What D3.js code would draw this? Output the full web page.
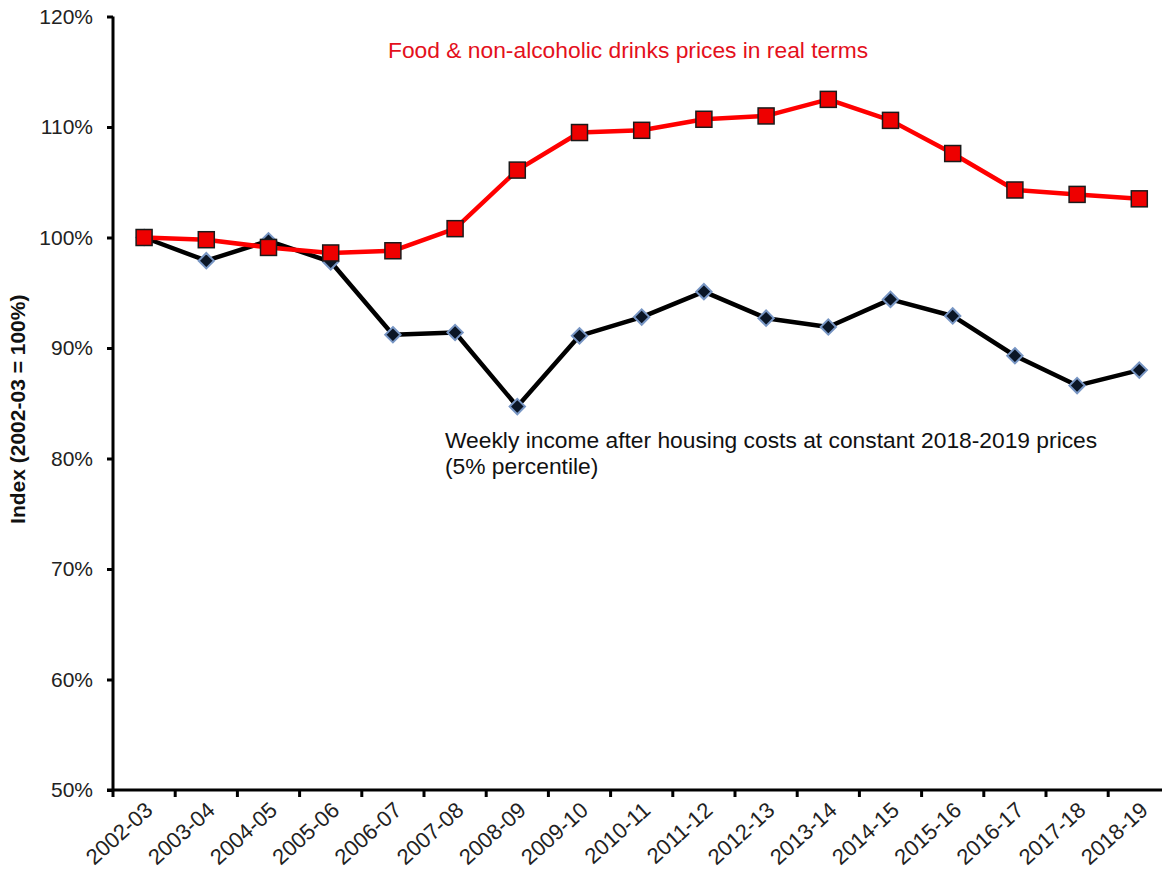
<!DOCTYPE html>
<html>
<head>
<meta charset="utf-8">
<script src="https://cdn.jsdelivr.net/npm/d3@7"></script>
<style>
  html, body { margin: 0; padding: 0; background: #ffffff; }
  svg { display: block; font-family: Arial, "Liberation Sans", sans-serif; }
</style>
</head>
<body>
<svg id="chart" width="1162" height="873"></svg>
<script>
// ---- Data ----
const categories = ["2002-03","2003-04","2004-05","2005-06","2006-07","2007-08","2008-09","2009-10","2010-11","2011-12","2012-13","2013-14","2014-15","2015-16","2016-17","2017-18","2018-19"];
const foodPrices = [100.0, 99.8, 99.1, 98.6, 98.8, 100.8, 106.1, 109.5, 109.7, 110.7, 111.0, 112.5, 110.6, 107.6, 104.3, 103.9, 103.5];
const weeklyIncome = [100.0, 97.9, 99.7, 97.8, 91.2, 91.4, 84.7, 91.1, 92.8, 95.1, 92.7, 91.9, 94.4, 92.9, 89.3, 86.6, 88.0];
const yTicks = [50, 60, 70, 80, 90, 100, 110, 120];
const foodLabel = "Food & non-alcoholic drinks prices in real terms";
const incomeLabel = ["Weekly income after housing costs at constant 2018-2019 prices", "(5% percentile)"];
const yTitle = "Index (2002-03 = 100%)";

// ---- Layout ----
const svg = d3.select("#chart");
const plotLeft = 113, plotTop = 16.5, plotBottom = 790, bandW = 62.2;
const plotRight = plotLeft + bandW * categories.length;

const x = d3.scaleBand().domain(categories).range([plotLeft, plotRight]).padding(0);
const y = d3.scaleLinear().domain([50, 120]).range([plotBottom, plotTop]);
const cx = d => x(d) + x.bandwidth() / 2;

// ---- Y axis ----
const yAxis = d3.axisLeft(y).tickValues(yTicks).tickFormat(d => d + "%").tickSize(6).tickPadding(14);
const gy = svg.append("g").attr("transform", `translate(${plotLeft},0)`).call(yAxis);
gy.select(".domain").attr("stroke", "#000").attr("stroke-width", 3).attr("d", `M0,${plotTop}V${plotBottom}`);
gy.selectAll(".tick line").attr("stroke", "#000").attr("stroke-width", 3);
gy.selectAll(".tick text").attr("font-size", 21).attr("fill", "#222").attr("font-family", "Arial, 'Liberation Sans', sans-serif");

// ---- X axis ----
const xAxis = d3.axisBottom(x).tickSize(0).tickPadding(0);
const gx = svg.append("g").attr("transform", `translate(0,${plotBottom})`).call(xAxis);
gx.select(".domain").attr("stroke", "#000").attr("stroke-width", 3).attr("d", `M${plotLeft - 6},0H${plotRight}`);
gx.selectAll(".tick text")
  .attr("font-size", 22).attr("fill", "#222").attr("font-family", "Arial, 'Liberation Sans', sans-serif")
  .attr("text-anchor", "end")
  .attr("dy", null).attr("y", null)
  .attr("transform", `translate(${x.bandwidth()/2 - 21},22) rotate(-42)`);
// boundary tick marks between categories
const edges = categories.map(c => x(c)).concat([plotRight]);
gx.selectAll(".edge").data(edges).enter().append("line")
  .attr("class", "edge")
  .attr("x1", d => d).attr("x2", d => d)
  .attr("y1", 0).attr("y2", 7)
  .attr("stroke", "#000").attr("stroke-width", 3);

// ---- Lines ----
const lineGen = vals => d3.line().x((d, i) => cx(categories[i])).y(d => y(d))(vals);

svg.append("path").attr("d", lineGen(weeklyIncome))
  .attr("fill", "none").attr("stroke", "#000").attr("stroke-width", 4.5).attr("stroke-linejoin", "round");

const diamond = d3.symbol().type(d3.symbolDiamond2).size(150);
svg.selectAll(".dia").data(weeklyIncome).enter().append("path")
  .attr("class", "dia")
  .attr("d", diamond)
  .attr("transform", (d, i) => `translate(${cx(categories[i])},${y(d)})`)
  .attr("fill", "#0b1626").attr("stroke", "#7896c4").attr("stroke-width", 2);

svg.append("path").attr("d", lineGen(foodPrices))
  .attr("fill", "none").attr("stroke", "#ff0000").attr("stroke-width", 4.5).attr("stroke-linejoin", "round");

svg.selectAll(".sq").data(foodPrices).enter().append("rect")
  .attr("class", "sq")
  .attr("x", (d, i) => cx(categories[i]) - 8)
  .attr("y", d => y(d) - 8)
  .attr("width", 16).attr("height", 16)
  .attr("fill", "#ee0000").attr("stroke", "#1a1a1a").attr("stroke-width", 1.5);

// ---- Annotations ----
svg.append("text").text(foodLabel)
  .attr("x", 388).attr("y", 58)
  .attr("font-size", 22.8).attr("fill", "#e4101c");

const inc = svg.append("text").attr("font-size", 22.8).attr("fill", "#111");
inc.selectAll("tspan").data(incomeLabel).enter().append("tspan")
  .attr("x", 445).attr("y", (d, i) => 448 + i * 26).text(d => d);

// ---- Y title ----
svg.append("text").text(yTitle)
  .attr("transform", `translate(25,${(plotTop + plotBottom) / 2 + 6}) rotate(-90)`)
  .attr("text-anchor", "middle")
  .attr("font-size", 21).attr("font-weight", "bold").attr("fill", "#111");
</script>
</body>
</html>
